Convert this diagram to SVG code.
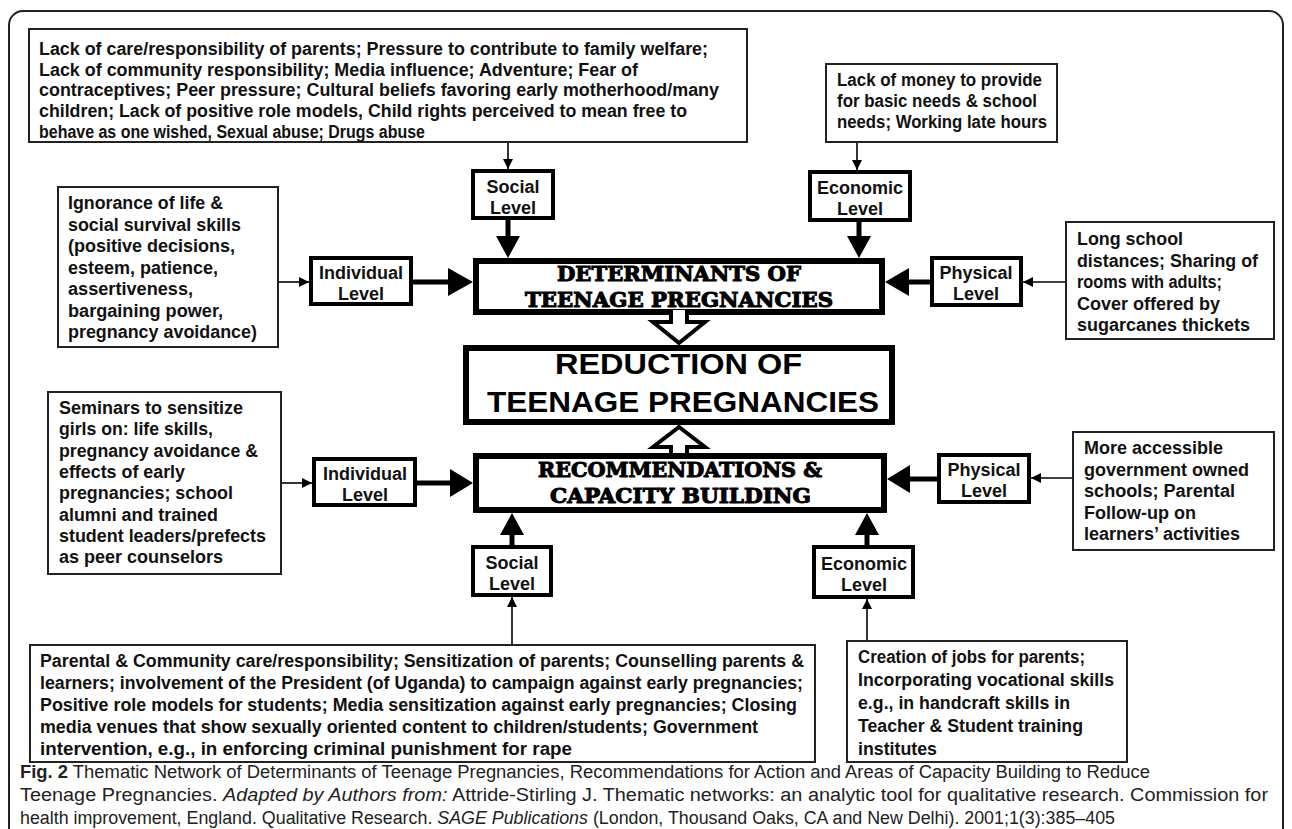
<svg xmlns="http://www.w3.org/2000/svg" width="1292" height="829" viewBox="0 0 1292 829">
<defs>
<style>
.t{font-family:"Liberation Sans",Arial,sans-serif;font-weight:bold;font-size:18px;fill:#111}
.lv{font-family:"Liberation Sans",Arial,sans-serif;font-weight:bold;font-size:18px;fill:#111;text-anchor:middle}
.box{fill:#fff;stroke:#222;stroke-width:2}
.lbox{fill:#fff;stroke:#000;stroke-width:4}
.mbox{fill:#fff;stroke:#000;stroke-width:6}
.serif{font-family:"DejaVu Serif","Liberation Serif",serif;font-weight:900;font-size:20px;fill:#000;stroke:#000;stroke-width:1}
.big{font-family:"Liberation Sans",Arial,sans-serif;font-weight:bold;font-size:29px;fill:#000}
.cap{font-family:"Liberation Sans",Arial,sans-serif;font-size:18px;fill:#222}
.thin{stroke:#000;stroke-width:1.6;fill:none}
.thick{stroke:#000;stroke-width:5;fill:none}
.hollow{fill:#fff;stroke:#000;stroke-width:4;stroke-linejoin:miter}
</style>
<marker id="ah" viewBox="0 0 10 10" refX="10" refY="5" markerWidth="10" markerHeight="10" markerUnits="userSpaceOnUse" orient="auto">
<path d="M0,0 L10,5 L0,10 z" fill="#000"/>
</marker>
</defs>
<rect x="9" y="11" width="1274" height="840" rx="14" fill="#fff" stroke="#222" stroke-width="2"/>

<g id="connectors">
<line class="thin" x1="508" y1="142" x2="508" y2="169" marker-end="url(#ah)"/>
<line class="thin" x1="857" y1="142" x2="857" y2="170" marker-end="url(#ah)"/>
<line class="thin" x1="278" y1="282" x2="309" y2="282" marker-end="url(#ah)"/>
<line class="thin" x1="1066" y1="282" x2="1023" y2="282" marker-end="url(#ah)"/>
<line class="thin" x1="281" y1="483" x2="312" y2="483" marker-end="url(#ah)"/>
<line class="thin" x1="1073" y1="478" x2="1031" y2="478" marker-end="url(#ah)"/>
<line class="thin" x1="512" y1="645" x2="512" y2="597" marker-end="url(#ah)"/>
<line class="thin" x1="867" y1="641" x2="867" y2="599" marker-end="url(#ah)"/>
<line class="thick" x1="508" y1="220" x2="508" y2="240"/>
<polygon points="496,236 520,236 508,258"/>
<line class="thick" x1="859" y1="222" x2="859" y2="240"/>
<polygon points="847,236 871,236 859,258"/>
<line class="thick" x1="413" y1="282" x2="452" y2="282"/>
<polygon points="448,268 448,296 473,282"/>
<line class="thick" x1="930" y1="282" x2="905" y2="282"/>
<polygon points="909,268 909,296 885,282"/>
<line class="thick" x1="417" y1="483" x2="454" y2="483"/>
<polygon points="450,469 450,497 473,483"/>
<line class="thick" x1="937" y1="479" x2="906" y2="479"/>
<polygon points="910,465 910,493 887,479"/>
<line class="thick" x1="512" y1="545" x2="512" y2="531"/>
<polygon points="500,535 524,535 512,513"/>
<line class="thick" x1="867" y1="545" x2="867" y2="531"/>
<polygon points="855,535 879,535 867,513"/>
</g>

<g id="social-text-top">
<rect class="box" x="29" y="29" width="718" height="113"/>
<text class="t" x="39" y="55" textLength="669" lengthAdjust="spacingAndGlyphs">Lack of care/responsibility of parents; Pressure to contribute to family welfare;</text>
<text class="t" x="39" y="76" textLength="599" lengthAdjust="spacingAndGlyphs">Lack of community responsibility; Media influence; Adventure; Fear of</text>
<text class="t" x="39" y="96" textLength="680" lengthAdjust="spacingAndGlyphs">contraceptives; Peer pressure; Cultural beliefs favoring early motherhood/many</text>
<text class="t" x="39" y="117" textLength="648" lengthAdjust="spacingAndGlyphs">children; Lack of positive role models, Child rights perceived to mean free to</text>
<text class="t" x="39" y="138" textLength="386" lengthAdjust="spacingAndGlyphs">behave as one wished, Sexual abuse; Drugs abuse</text>
</g>

<g id="economic-text-top">
<rect class="box" x="826" y="64" width="231" height="78"/>
<text class="t" x="837" y="86" textLength="205" lengthAdjust="spacingAndGlyphs">Lack of money to provide</text>
<text class="t" x="837" y="107" textLength="200" lengthAdjust="spacingAndGlyphs">for basic needs &amp; school</text>
<text class="t" x="837" y="128" textLength="210" lengthAdjust="spacingAndGlyphs">needs; Working late hours</text>
</g>

<g id="social-level-top">
<rect class="lbox" x="473" y="171" width="80" height="47"/>
<text class="lv" x="513" y="193">Social</text>
<text class="lv" x="513" y="214">Level</text>
</g>

<g id="economic-level-top">
<rect class="lbox" x="810" y="172" width="100" height="48"/>
<text class="lv" x="860" y="194">Economic</text>
<text class="lv" x="860" y="215">Level</text>
</g>

<g id="individual-text-top">
<rect class="box" x="58" y="187" width="220" height="160"/>
<text class="t" x="68" y="209" textLength="155" lengthAdjust="spacingAndGlyphs">Ignorance of life &amp;</text>
<text class="t" x="68" y="230.5" textLength="173" lengthAdjust="spacingAndGlyphs">social survival skills</text>
<text class="t" x="68" y="252" textLength="167" lengthAdjust="spacingAndGlyphs">(positive decisions,</text>
<text class="t" x="68" y="273.5" textLength="150" lengthAdjust="spacingAndGlyphs">esteem, patience,</text>
<text class="t" x="68" y="295" textLength="125" lengthAdjust="spacingAndGlyphs">assertiveness,</text>
<text class="t" x="68" y="316.5" textLength="155" lengthAdjust="spacingAndGlyphs">bargaining power,</text>
<text class="t" x="68" y="338" textLength="189" lengthAdjust="spacingAndGlyphs">pregnancy avoidance)</text>
</g>

<g id="individual-level-top">
<rect class="lbox" x="311" y="258" width="100" height="46"/>
<text class="lv" x="361" y="279">Individual</text>
<text class="lv" x="361" y="300">Level</text>
</g>

<g id="determinants">
<rect class="mbox" x="476" y="261" width="406" height="51"/>
<text class="serif" x="557" y="281" textLength="244" lengthAdjust="spacingAndGlyphs">DETERMINANTS OF</text>
<text class="serif" x="525" y="307" textLength="308" lengthAdjust="spacingAndGlyphs">TEENAGE PREGNANCIES</text>
</g>

<g id="physical-level-top">
<rect class="lbox" x="932" y="258" width="89" height="47"/>
<text class="lv" x="976" y="279">Physical</text>
<text class="lv" x="976" y="300">Level</text>
</g>

<g id="physical-text-top">
<rect class="box" x="1066" y="222" width="208" height="117"/>
<text class="t" x="1077" y="245" textLength="106" lengthAdjust="spacingAndGlyphs">Long school</text>
<text class="t" x="1077" y="266.5" textLength="181" lengthAdjust="spacingAndGlyphs">distances; Sharing of</text>
<text class="t" x="1077" y="288" textLength="145" lengthAdjust="spacingAndGlyphs">rooms with adults;</text>
<text class="t" x="1077" y="309.5" textLength="143" lengthAdjust="spacingAndGlyphs">Cover offered by</text>
<text class="t" x="1077" y="331" textLength="173" lengthAdjust="spacingAndGlyphs">sugarcanes thickets</text>
</g>

<g id="down-arrow">
<path class="hollow" d="M671,310 V322 H653 L679,343 L705,322 H687 V310"/>
</g>

<g id="reduction">
<rect class="mbox" x="466" y="348" width="426" height="74"/>
<text class="big" x="555" y="374" textLength="247" lengthAdjust="spacingAndGlyphs">REDUCTION OF</text>
<text class="big" x="487" y="412" textLength="392" lengthAdjust="spacingAndGlyphs">TEENAGE PREGNANCIES</text>
</g>

<g id="up-arrow">
<path class="hollow" d="M671,459 V447 H653 L679,427 L705,447 H687 V459"/>
</g>

<g id="recommendations">
<rect class="mbox" x="476" y="456" width="408" height="54"/>
<text class="serif" x="538" y="477" textLength="284" lengthAdjust="spacingAndGlyphs">RECOMMENDATIONS &amp;</text>
<text class="serif" x="550" y="503" textLength="261" lengthAdjust="spacingAndGlyphs">CAPACITY BUILDING</text>
</g>

<g id="individual-text-bottom">
<rect class="box" x="48" y="392" width="233" height="182"/>
<text class="t" x="59" y="414" textLength="184" lengthAdjust="spacingAndGlyphs">Seminars to sensitize</text>
<text class="t" x="59" y="435.3" textLength="154" lengthAdjust="spacingAndGlyphs">girls on: life skills,</text>
<text class="t" x="59" y="456.6" textLength="199" lengthAdjust="spacingAndGlyphs">pregnancy avoidance &amp;</text>
<text class="t" x="59" y="477.9" textLength="126" lengthAdjust="spacingAndGlyphs">effects of early</text>
<text class="t" x="59" y="499.2" textLength="174" lengthAdjust="spacingAndGlyphs">pregnancies; school</text>
<text class="t" x="59" y="520.5" textLength="159" lengthAdjust="spacingAndGlyphs">alumni and trained</text>
<text class="t" x="59" y="541.8" textLength="207" lengthAdjust="spacingAndGlyphs">student leaders/prefects</text>
<text class="t" x="59" y="563.1" textLength="164" lengthAdjust="spacingAndGlyphs">as peer counselors</text>
</g>

<g id="individual-level-bottom">
<rect class="lbox" x="314" y="459" width="101" height="46"/>
<text class="lv" x="365" y="480">Individual</text>
<text class="lv" x="365" y="501">Level</text>
</g>

<g id="physical-level-bottom">
<rect class="lbox" x="939" y="455" width="90" height="47"/>
<text class="lv" x="984" y="476">Physical</text>
<text class="lv" x="984" y="497">Level</text>
</g>

<g id="physical-text-bottom">
<rect class="box" x="1073" y="432" width="201" height="118"/>
<text class="t" x="1084" y="454" textLength="139" lengthAdjust="spacingAndGlyphs">More accessible</text>
<text class="t" x="1084" y="475.5" textLength="165" lengthAdjust="spacingAndGlyphs">government owned</text>
<text class="t" x="1084" y="497" textLength="151" lengthAdjust="spacingAndGlyphs">schools; Parental</text>
<text class="t" x="1084" y="518.5" textLength="112" lengthAdjust="spacingAndGlyphs">Follow-up on</text>
<text class="t" x="1084" y="540" textLength="156" lengthAdjust="spacingAndGlyphs">learners’ activities</text>
</g>

<g id="social-level-bottom">
<rect class="lbox" x="473" y="547" width="78" height="48"/>
<text class="lv" x="512" y="569">Social</text>
<text class="lv" x="512" y="590">Level</text>
</g>

<g id="economic-level-bottom">
<rect class="lbox" x="814" y="547" width="99" height="50"/>
<text class="lv" x="864" y="570">Economic</text>
<text class="lv" x="864" y="591">Level</text>
</g>

<g id="social-text-bottom">
<rect class="box" x="30" y="645" width="785" height="117"/>
<text class="t" x="40" y="667" textLength="764" lengthAdjust="spacingAndGlyphs">Parental &amp; Community care/responsibility; Sensitization of parents; Counselling parents &amp;</text>
<text class="t" x="40" y="689" textLength="763" lengthAdjust="spacingAndGlyphs">learners; involvement of the President (of Uganda) to campaign against early pregnancies;</text>
<text class="t" x="40" y="711" textLength="757" lengthAdjust="spacingAndGlyphs">Positive role models for students; Media sensitization against early pregnancies; Closing</text>
<text class="t" x="40" y="733" textLength="718" lengthAdjust="spacingAndGlyphs">media venues that show sexually oriented content to children/students; Government</text>
<text class="t" x="40" y="755" textLength="532" lengthAdjust="spacingAndGlyphs">intervention, e.g., in enforcing criminal punishment for rape</text>
</g>

<g id="economic-text-bottom">
<rect class="box" x="847" y="641" width="280" height="121"/>
<text class="t" x="858" y="663" textLength="227" lengthAdjust="spacingAndGlyphs">Creation of jobs for parents;</text>
<text class="t" x="858" y="686" textLength="256" lengthAdjust="spacingAndGlyphs">Incorporating vocational skills</text>
<text class="t" x="858" y="709" textLength="212" lengthAdjust="spacingAndGlyphs">e.g., in handcraft skills in</text>
<text class="t" x="858" y="732" textLength="225" lengthAdjust="spacingAndGlyphs">Teacher &amp; Student training</text>
<text class="t" x="858" y="755" textLength="79" lengthAdjust="spacingAndGlyphs">institutes</text>
</g>

<g id="caption">
<text class="cap" x="20" y="778" textLength="1130" lengthAdjust="spacingAndGlyphs"><tspan font-weight="bold">Fig. 2</tspan> Thematic Network of Determinants of Teenage Pregnancies, Recommendations for Action and Areas of Capacity Building to Reduce</text>
<text class="cap" x="20" y="801" textLength="1248" lengthAdjust="spacingAndGlyphs">Teenage Pregnancies. <tspan font-style="italic">Adapted by Authors from:</tspan> Attride-Stirling J. Thematic networks: an analytic tool for qualitative research. Commission for</text>
<text class="cap" x="20" y="824" textLength="1095" lengthAdjust="spacingAndGlyphs">health improvement, England. Qualitative Research. <tspan font-style="italic">SAGE Publications</tspan> (London, Thousand Oaks, CA and New Delhi). 2001;1(3):385–405</text>
</g>
</svg>
